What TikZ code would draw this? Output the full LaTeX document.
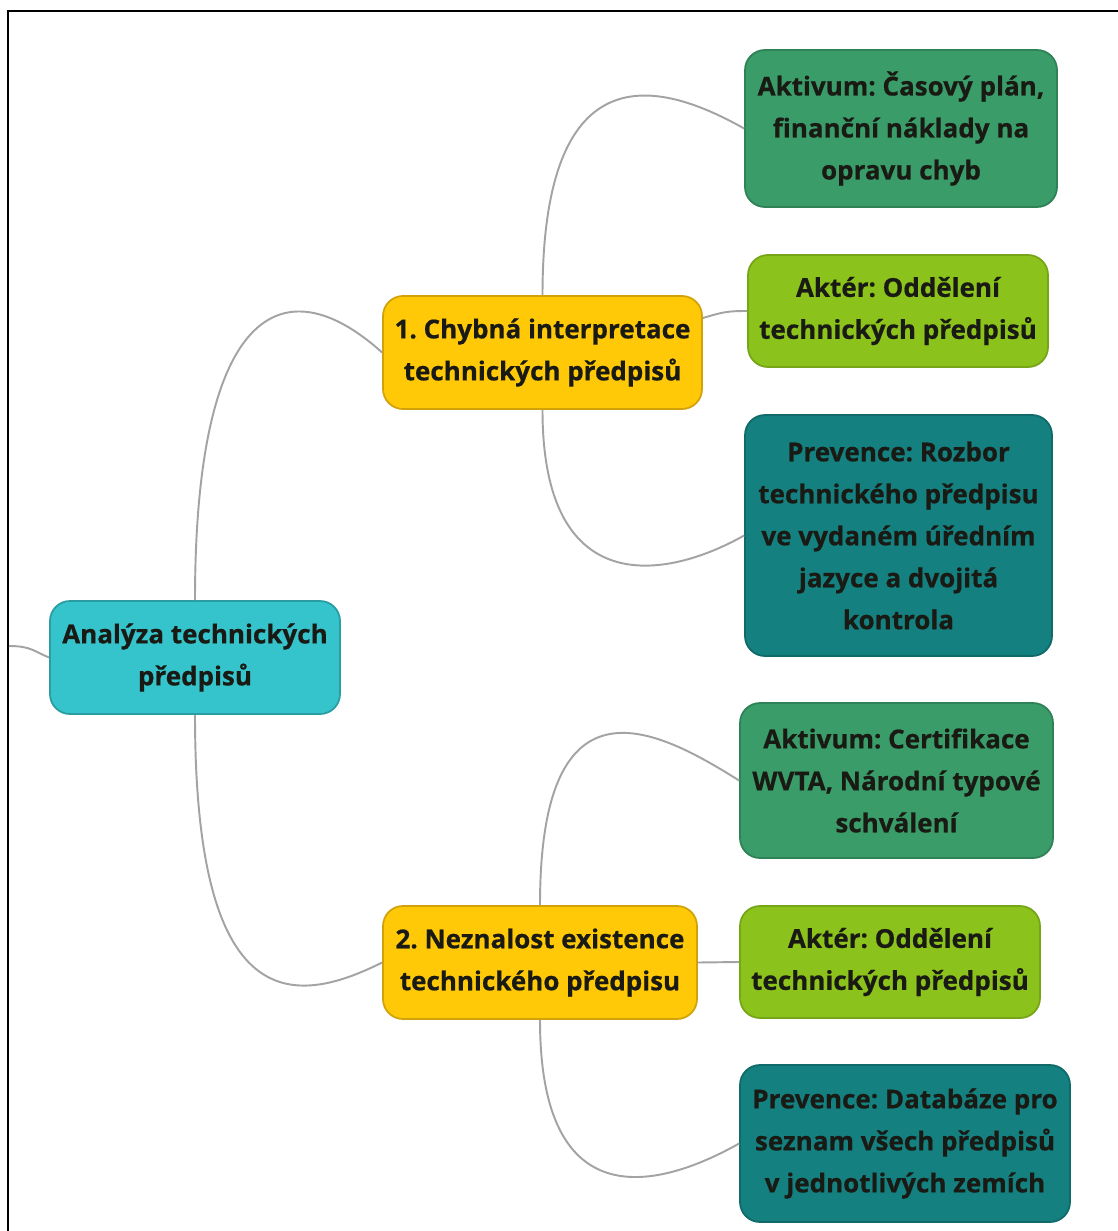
\documentclass[tikz,border=0pt]{standalone}
\usepackage{fontspec}
\setmainfont{Open Sans}[BoldFeatures={FakeBold=0.6}]
\frenchspacing
\definecolor{rootfill}{HTML}{35C4CB}
\definecolor{rootdraw}{HTML}{2A9DA3}
\definecolor{yelfill}{HTML}{FFC907}
\definecolor{yeldraw}{HTML}{D2A20A}
\definecolor{aktfill}{HTML}{3A9C68}
\definecolor{aktdraw}{HTML}{2F8256}
\definecolor{limefill}{HTML}{8CC21C}
\definecolor{limedraw}{HTML}{76A518}
\definecolor{tealfill}{HTML}{14807F}
\definecolor{tealdraw}{HTML}{0F6A69}
\definecolor{linkgray}{HTML}{A3A3A3}
\definecolor{txt}{HTML}{1A1A14}
\begin{document}
\begin{tikzpicture}[x=0.02cm,y=-0.02cm,
  box/.style={rounded corners=0.4cm, line width=1pt, align=center, inner sep=0pt,
    font=\fontsize{14.8pt}{23.9pt}\selectfont\bfseries, text=txt},
  rootbox/.style={box, fill=rootfill, draw=rootdraw},
  catbox/.style={box, fill=yelfill, draw=yeldraw},
  assetbox/.style={box, fill=aktfill, draw=aktdraw},
  actorbox/.style={box, fill=limefill, draw=limedraw},
  prevbox/.style={box, fill=tealfill, draw=tealdraw},
  link/.style={draw=linkgray, line width=1.1pt}]
\useasboundingbox (0,0) rectangle (1118,1231);
\fill[white] (0,0) rectangle (1118,1231);
\draw[line width=1.2pt] (8,1231) -- (8,11) -- (1118,11);

% nodes
\node[rootbox, minimum width=290*0.02cm, minimum height=113*0.02cm] (root) at (195,657.5)
  {Analýza technických\\předpisů};
\node[catbox, minimum width=319*0.02cm, minimum height=113*0.02cm] (c1) at (542.5,352.5)
  {1. Chybná interpretace\\technických předpisů};
\node[catbox, minimum width=314*0.02cm, minimum height=113*0.02cm] (c2) at (540,962.5)
  {2. Neznalost existence\\technického předpisu};
\node[assetbox, minimum width=312*0.02cm, minimum height=157*0.02cm] (a1) at (901,128.5)
  {Aktivum: Časový plán,\\finanční náklady na\\opravu chyb};
\node[actorbox, minimum width=300*0.02cm, minimum height=112*0.02cm] (t1) at (898,311)
  {Aktér: Oddělení\\technických předpisů};
\node[prevbox, minimum width=307*0.02cm, minimum height=241*0.02cm] (p1) at (898.5,535.5)
  {Prevence: Rozbor\\technického předpisu\\ve vydaném úředním\\jazyce a dvojitá\\kontrola};
\node[assetbox, minimum width=313*0.02cm, minimum height=155*0.02cm] (a2) at (896.5,780.5)
  {Aktivum: Certifikace\\WVTA, Národní typové\\schválení};
\node[actorbox, minimum width=300*0.02cm, minimum height=112*0.02cm] (t2) at (890,962)
  {Aktér: Oddělení\\technických předpisů};
\node[prevbox, minimum width=330*0.02cm, minimum height=157*0.02cm] (p2) at (905,1143.5)
  {Prevence: Databáze pro\\seznam všech předpisů\\v jednotlivých zemích};

\coordinate (stub) at (9,646);

% connectors
\draw[link] (stub) .. controls +(22,0) and +(-15,-6) .. (root.west);
\draw[link] (root.north) .. controls +(0,-290) and +(-100,-90) .. (c1.west);
\draw[link] (root.south) .. controls +(0,300) and +(-90,45) .. (c2.west);
\draw[link] (c1.north) .. controls +(0,-250) and +(-80,-45) .. (a1.west);
\draw[link] ([yshift=0.69cm]c1.east) .. controls +(20,-6) and +(-20,0) .. (t1.west);
\draw[link] (c1.south) .. controls +(0,190) and +(-80,45) .. (p1.west);
\draw[link] (c2.north) .. controls +(0,-240) and +(-80,-50) .. (a2.west);
\draw[link] (c2.east) -- (t2.west);
\draw[link] (c2.south) .. controls +(0,200) and +(-80,45) .. (p2.west);
\end{tikzpicture}
\end{document}
